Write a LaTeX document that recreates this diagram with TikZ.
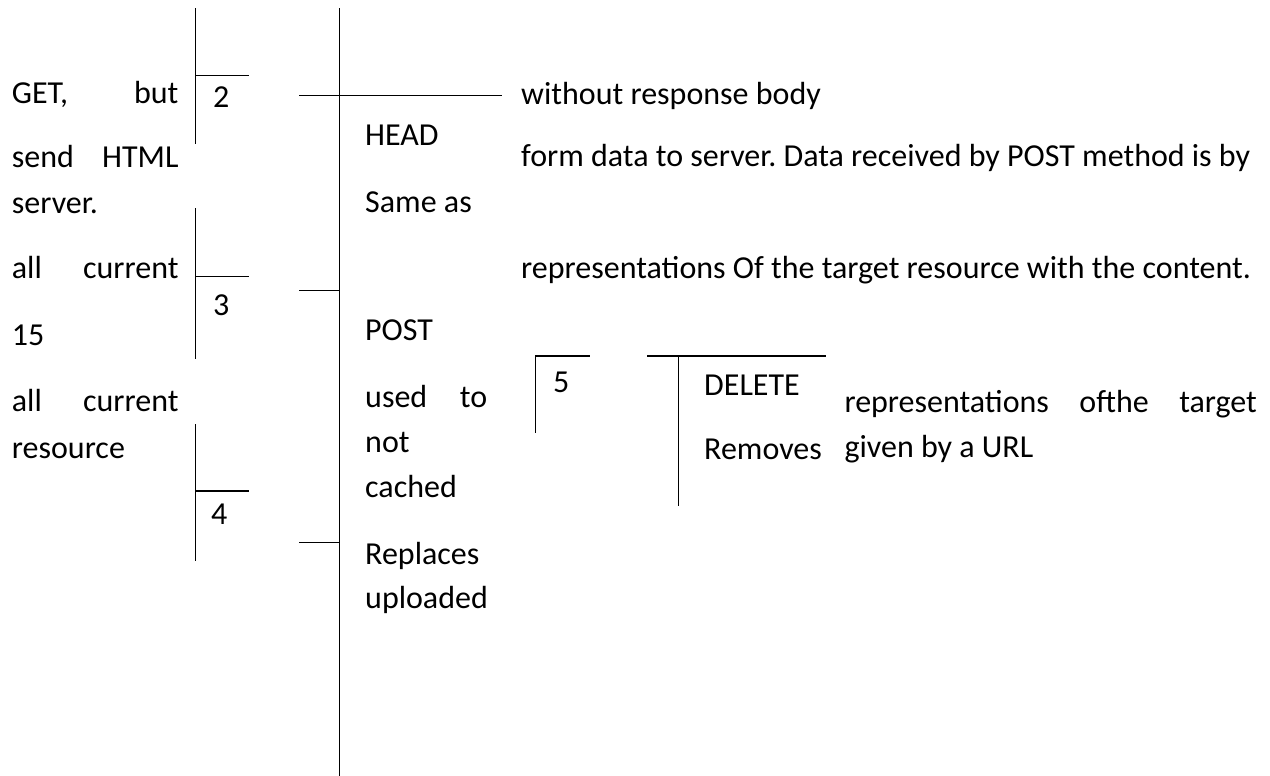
\documentclass[tikz,border=0pt]{standalone}
\usepackage{fontspec}
\setmainfont{Carlito}
\frenchspacing
\begin{document}
\begin{tikzpicture}[x=1pt,y=-1pt,
  txt/.style={anchor=base west, inner sep=0pt, font=\fontsize{32}{38}\selectfont},
  rule/.style={line width=1.1pt, line cap=rect}]
\useasboundingbox (0,0) rectangle (1270,776);
% table borders
\draw[rule] (195.5,9) -- (195.5,143);
\draw[rule] (195.5,209) -- (195.5,358);
\draw[rule] (195.5,425) -- (195.5,560);
\draw[rule] (195.5,75.3) -- (248.7,75.3);
\draw[rule] (195.5,276.3) -- (248.7,276.3);
\draw[rule] (195.5,491) -- (248.7,491);
\draw[rule] (339.5,9) -- (339.5,775);
\draw[rule] (300,95.3) -- (501.7,95.3);
\draw[rule] (300,290.3) -- (339.5,290.3);
\draw[rule] (300,542.3) -- (339.5,542.3);
\draw[rule] (535.7,432.7) -- (535.7,356) -- (589,356);
\draw[rule] (647.3,356) -- (825.7,356);
\draw[rule] (678.3,356) -- (678.3,505.7);
% left column
\node[txt] (l1) at (11.7,103) {\makebox[166.6pt][s]{GET, but}};
\node[txt] (l2) at (11.7,167) {\makebox[166.6pt][s]{send HTML}};
\node[txt] (l3) at (11.7,213) {server.};
\node[txt] (l4) at (11.7,278) {\makebox[166.6pt][s]{all current}};
\node[txt] (l5) at (11.7,345) {15};
\node[txt] (l6) at (11.7,411) {\makebox[166.6pt][s]{all current}};
\node[txt] (l7) at (11.7,458) {resource};
% numbers
\node[txt] (n2) at (213,107) {2};
\node[txt] (n3) at (213,315) {3};
\node[txt] (n4) at (211,524) {4};
\node[txt] (n5) at (553,392) {5};
% method column
\node[txt] (m1) at (365,146) {HEAD};
\node[txt] (m2) at (365,212) {Same as};
\node[txt] (m3) at (365,340) {POST};
\node[txt] (m4) at (365,407) {\makebox[122pt][s]{used to}};
\node[txt] (m5) at (365,452) {not};
\node[txt] (m6) at (365,497) {cached};
\node[txt] (m7) at (365,564) {Replaces};
\node[txt] (m8) at (365,608) {uploaded};
% right text
\node[txt] (r1) at (521,104) {without response body};
\node[txt] (r2) at (521,166) {form data to server. Data received by POST method is by};
\node[txt] (r3) at (521,278) {representations Of the target resource with the content.};
\node[txt] (d1) at (704,395) {DELETE};
\node[txt] (d2) at (704,459) {Removes};
\node[txt] (d3) at (844.3,412) {\makebox[412.4pt][s]{representations ofthe target}};
\node[txt] (d4) at (844.3,457) {given by a URL};
\end{tikzpicture}
\end{document}
